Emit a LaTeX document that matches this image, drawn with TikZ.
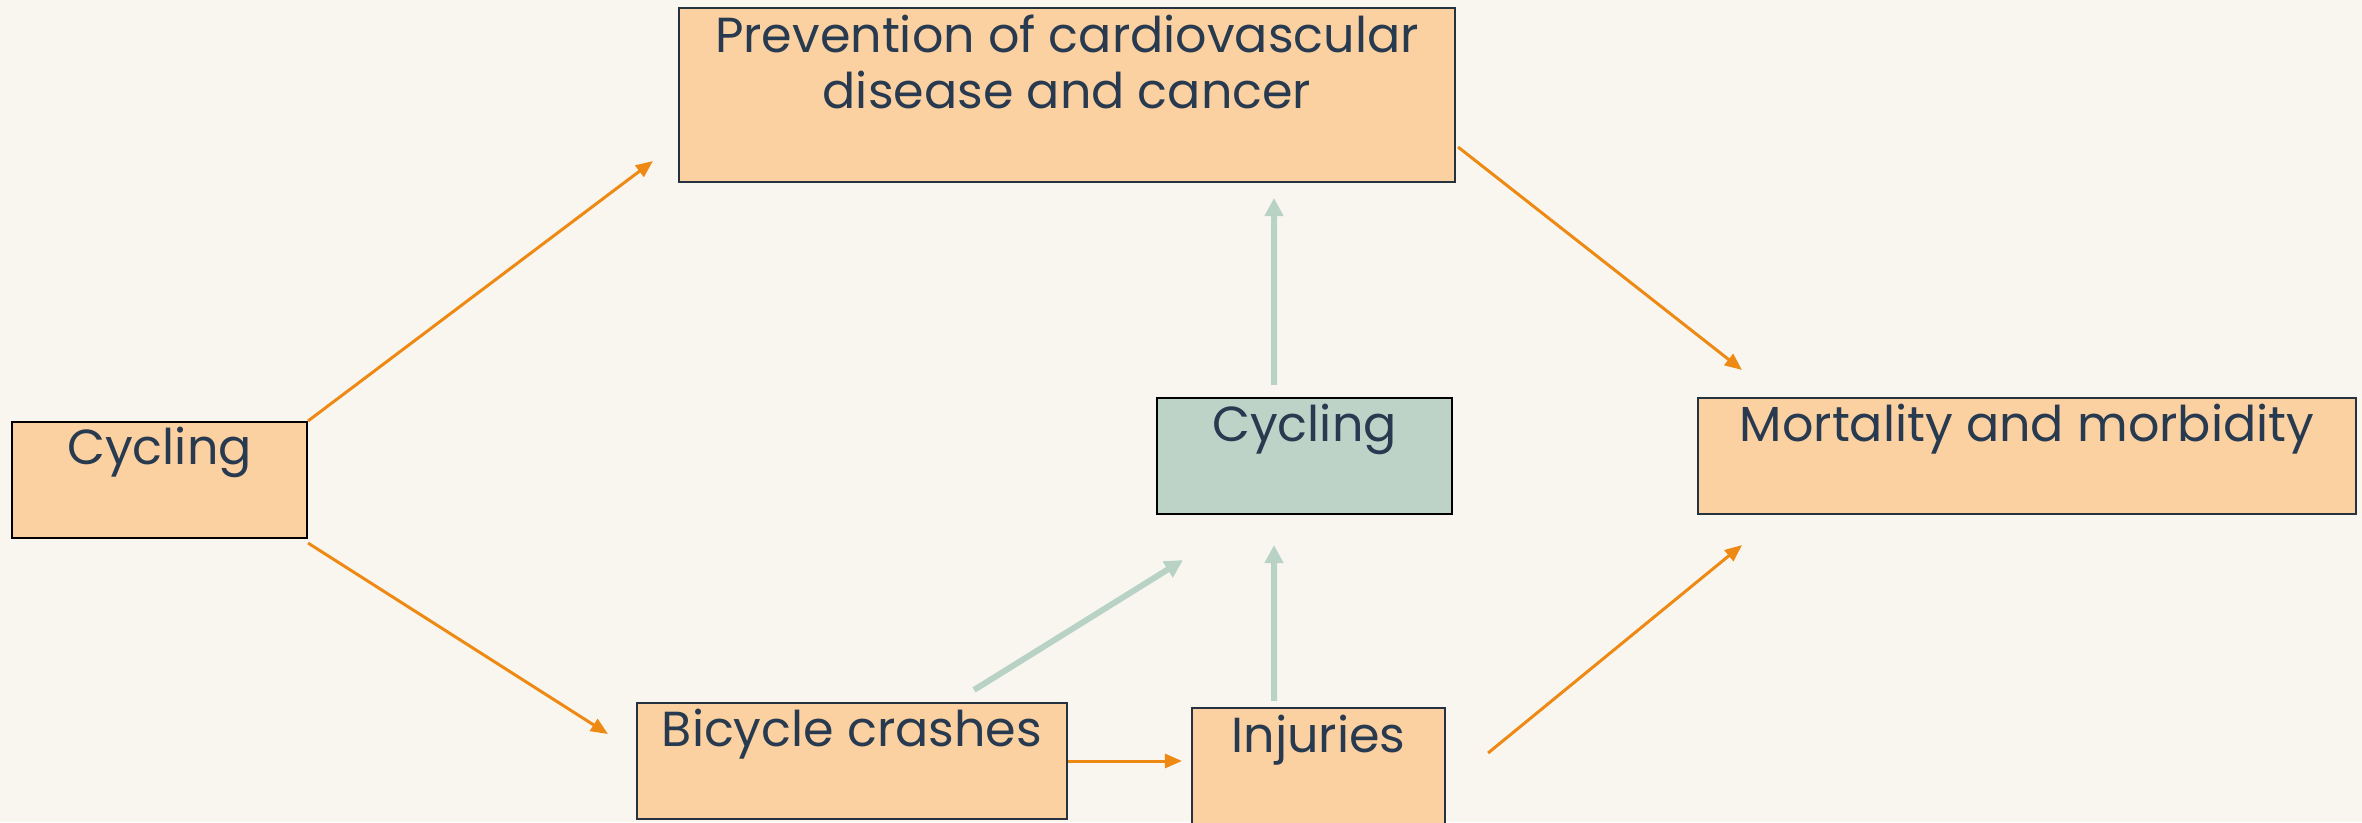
\documentclass[tikz,border=0pt]{standalone}
\usepackage{fontspec}
\setmainfont{Poppins}
\usetikzlibrary{arrows.meta,calc}
\definecolor{paper}{HTML}{F9F6F0}
\definecolor{peach}{HTML}{FCD1A2}
\definecolor{sage}{HTML}{BDD3C8}
\definecolor{ink}{HTML}{283A4F}
\definecolor{edge}{HTML}{26323F}
\definecolor{orangeline}{HTML}{EE8A14}
\definecolor{sageline}{HTML}{B8D2C5}
\tikzset{
  every picture/.style={font={\fontsize{14pt}{16.2pt}\selectfont}},
  box/.style={rectangle, draw=edge, line width=0.6pt, fill=peach, inner sep=0pt},
  greenbox/.style={box, fill=sage, draw=black},
  txt/.style={text=ink, inner sep=0pt, anchor=base, align=center},
  orangearrow/.style={draw=orangeline, line width=0.85pt,
    -{Triangle[length=0.17cm,width=0.14cm]}},
  greenarrow/.style={draw=sageline, line width=1.7pt,
    -{Triangle[length=0.18cm,width=0.18cm]}}}

\begin{document}
\begin{tikzpicture}
  \fill[paper] (0,0) rectangle (23.62,8.22);
  \useasboundingbox (0,0) rectangle (23.62,8.22);

  % boxes
  \node [box, draw=black, minimum width=2.95cm, minimum height=1.16cm] (cycling) at (1.595,3.42) {};
  \node [box, minimum width=7.76cm, minimum height=1.74cm] (prevention) at (10.67,7.27) {};
  \node [greenbox, minimum width=2.95cm, minimum height=1.16cm] (cyclingmid) at (13.045,3.66) {};
  \node [box, minimum width=6.58cm, minimum height=1.16cm] (mortality) at (20.27,3.66) {};
  \node [box, minimum width=4.30cm, minimum height=1.16cm] (crashes) at (8.52,0.61) {};
  \node [box, minimum width=2.53cm, minimum height=1.16cm] (injuries) at (13.185,0.56) {};

  % texts (base of a two-line node is its last line)
  \node [txt] (cyclingtext) at ($(cycling.north)+(0,-0.44)$) {Cycling};
  \node [txt] (preventiontext) at ($(prevention.north)+(0,-1.02)$)
    {Prevention of cardiovascular\\disease and cancer};
  \node [txt] (cyclingmidtext) at ($(cyclingmid.north)+(0,-0.45)$) {Cycling};
  \node [txt] (mortalitytext) at ($(mortality.north)+(0,-0.45)$) {Mortality and morbidity};
  \node [txt] (crashestext) at ($(crashes.north)+(0,-0.45)$) {Bicycle crashes};
  \node [txt] (injuriestext) at ($(injuries.north)+(0,-0.46)$) {Injuries};

  % orange arrows
  \draw [orangearrow] (cycling.north east) -- ($(prevention.south west)+(-0.25,0.22)$);
  \draw [orangearrow] ($(cycling.south east)+(0,-0.04)$) -- ($(crashes.west)+(-0.28,0.27)$);
  \draw [orangearrow] ($(prevention.south east)+(0.02,0.36)$) -- ($(mortality.north west)+(0.45,0.27)$);
  \draw [orangearrow] (crashes.east) -- ($(crashes.east -| injuries.west)+(-0.09,0)$);
  \draw [orangearrow] ($(injuries.east)+(0.42,0.13)$) -- ($(mortality.south west)+(0.45,-0.30)$);

  % green arrows
  \draw [greenarrow] ($(crashes.north east)+(-0.94,0.12)$) -- ($(cyclingmid.south west)+(0.27,-0.45)$);
  \draw [greenarrow] ($(injuries.north)+(-0.445,0.06)$) -- ($(cyclingmid.south)+(-0.305,-0.30)$);
  \draw [greenarrow] ($(cyclingmid.north)+(-0.305,0.12)$) -- ($(prevention.south)+(2.07,-0.15)$);
\end{tikzpicture}
\end{document}
